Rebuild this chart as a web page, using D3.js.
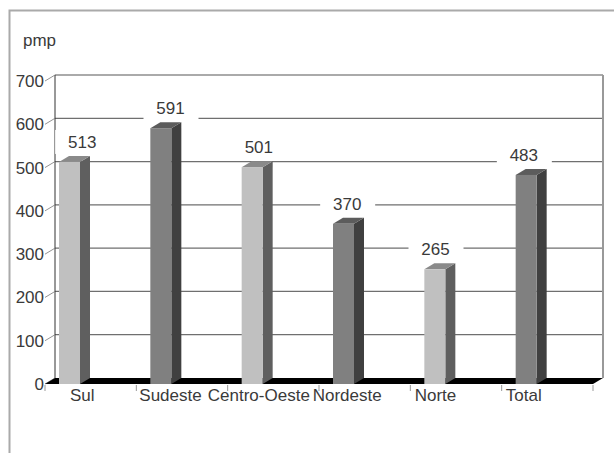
<!DOCTYPE html>
<html>
<head>
<meta charset="utf-8">
<script src="https://cdn.jsdelivr.net/npm/d3@7"></script>
<style>
  body { margin: 0; background: #fff; }
  text { font-family: "Liberation Sans", Arial, sans-serif; fill: #3a3a3a; }
</style>
</head>
<body>
<svg id="chart" width="614" height="453"></svg>
<script>
// data
const regions = ['Sul', 'Sudeste', 'Centro-Oeste', 'Nordeste', 'Norte', 'Total'];
const pmpValues = [513, 591, 501, 370, 265, 483];
const yTicks = [0, 100, 200, 300, 400, 500, 600, 700];
const unitLabel = 'pmp';

const svg = d3.select('#chart');

const depthX = 10;   // 3d depth offset
const depthY = 6;
const barWidth = 21;

// front plane scales, back plane = shifted by depth
const x = d3.scaleBand().domain(regions).range([45, 593]);
const yFront = d3.scaleLinear().domain([0, 700]).range([384, 81]);
const yBack = v => yFront(v) - depthY;
const labelX = d3.scaleBand().domain(regions).range([38, 568]);

// outer frame (cut by the page edge)
svg.append('rect')
    .attr('x', 9.5).attr('y', 10.5)
    .attr('width', 640).attr('height', 480)
    .attr('fill', 'none')
    .attr('stroke', '#aaa')
    .attr('stroke-width', 2);

svg.append('text')
    .attr('x', 23).attr('y', 46)
    .attr('font-size', 17)
    .text(unitLabel);

// back wall
const wallLeft = x.range()[0] + depthX;
const wallRight = x.range()[1] + depthX;
svg.append('rect')
    .attr('x', wallLeft).attr('y', yBack(700))
    .attr('width', wallRight - wallLeft)
    .attr('height', yBack(0) - yBack(700))
    .attr('fill', '#fff');

// gridlines
svg.selectAll('.grid')
    .data(yTicks.filter(d => d > 0))
    .enter()
    .append('line')
    .attr('class', 'grid')
    .attr('x1', wallLeft).attr('x2', wallRight)
    .attr('y1', d => yBack(d)).attr('y2', d => yBack(d))
    .attr('stroke', d => d === 700 ? '#aaa' : '#6f6f6f')
    .attr('stroke-width', d => d === 700 ? 2 : 1.2);

svg.append('line')
    .attr('x1', wallRight).attr('x2', wallRight)
    .attr('y1', yBack(700)).attr('y2', yBack(0))
    .attr('stroke', '#999').attr('stroke-width', 2);

svg.append('line')
    .attr('x1', wallLeft).attr('x2', wallLeft)
    .attr('y1', yBack(700)).attr('y2', yBack(0))
    .attr('stroke', '#333').attr('stroke-width', 1);

// y axis ticks (diagonal, front to back) and labels
svg.selectAll('.ytick')
    .data(yTicks)
    .enter()
    .append('line')
    .attr('class', 'ytick')
    .attr('x1', x.range()[0]).attr('y1', d => yFront(d))
    .attr('x2', wallLeft).attr('y2', d => yBack(d))
    .attr('stroke', '#777').attr('stroke-width', 0.8);

svg.selectAll('.ylabel')
    .data(yTicks)
    .enter()
    .append('text')
    .attr('class', 'ylabel')
    .attr('x', x.range()[0] - 1)
    .attr('y', d => yFront(d))
    .attr('dy', '0.35em')
    .attr('text-anchor', 'end')
    .attr('font-size', 17)
    .text(d => d);

// value labels with white boxes over the gridlines
const valueLabels = svg.selectAll('.vlabel')
    .data(regions)
    .enter()
    .append('g')
    .attr('class', 'vlabel')
    .attr('transform', (d, i) =>
        `translate(${labelX(d) + labelX.bandwidth() / 2},${yFront(pmpValues[i]) - 20})`);

valueLabels.append('rect')
    .attr('x', -27).attr('y', -12)
    .attr('width', 55).attr('height', 24)
    .attr('fill', '#fff');

valueLabels.append('text')
    .attr('text-anchor', 'middle')
    .attr('dy', '0.35em')
    .attr('font-size', 17)
    .text((d, i) => pmpValues[i]);

// floor
const x0 = x.range()[0], x1 = x.range()[1];
svg.append('polygon')
    .attr('points', [
        [x0, yFront(0)], [x1, yFront(0)],
        [x1 + depthX, yBack(0)], [x0 + depthX, yBack(0)]
    ].join(' '))
    .attr('fill', '#000');

// x ticks under the floor
svg.selectAll('.xtick')
    .data(regions.map(d => x(d)).concat([x1]))
    .enter()
    .append('line')
    .attr('class', 'xtick')
    .attr('x1', d => d).attr('x2', d => d)
    .attr('y1', yFront(0) + 1).attr('y2', yFront(0) + 7)
    .attr('stroke', '#999').attr('stroke-width', 1);

// bars
const lightColors = { front: '#c0c0c0', side: '#5f5f5f', top: '#8a8a8a' };
const darkColors = { front: '#808080', side: '#404040', top: '#5c5c5c' };

const bars = svg.selectAll('.bar')
    .data(regions)
    .enter()
    .append('g')
    .attr('class', 'bar');

bars.each(function(d, i) {
    const g = d3.select(this);
    const c = i % 2 === 0 ? lightColors : darkColors;
    const bx = x(d) + 14;
    const top = yFront(pmpValues[i]);
    const bottom = yFront(0);

    g.append('polygon')
        .attr('points', [
            [bx + barWidth, top], [bx + barWidth + depthX, top - depthY],
            [bx + barWidth + depthX, bottom - depthY], [bx + barWidth, bottom]
        ].join(' '))
        .attr('fill', c.side);

    g.append('polygon')
        .attr('points', [
            [bx, top], [bx + depthX, top - depthY],
            [bx + barWidth + depthX, top - depthY], [bx + barWidth, top]
        ].join(' '))
        .attr('fill', c.top);

    g.append('rect')
        .attr('x', bx).attr('y', top)
        .attr('width', barWidth).attr('height', bottom - top)
        .attr('fill', c.front);
});

// category labels
svg.selectAll('.xlabel')
    .data(regions)
    .enter()
    .append('text')
    .attr('class', 'xlabel')
    .attr('x', d => labelX(d) + labelX.bandwidth() / 2)
    .attr('y', 401)
    .attr('text-anchor', 'middle')
    .attr('font-size', 17)
    .text(d => d);
</script>
</body>
</html>
